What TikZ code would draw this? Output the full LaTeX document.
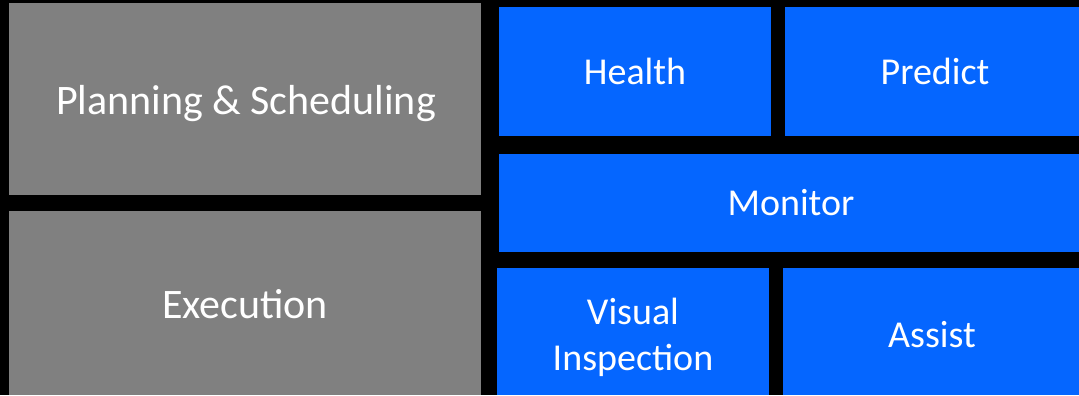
\documentclass[tikz,border=0pt]{standalone}
\usepackage{fontspec}
\setmainfont{Carlito}
\definecolor{tilegray}{RGB}{128,128,128}
\definecolor{tileblue}{RGB}{5,102,255}
\begin{document}
\begin{tikzpicture}[x=1bp,y=-1bp,
  tile/.style={rectangle,inner sep=0pt,outer sep=0pt,draw=none},
  graytile/.style={tile,fill=tilegray},
  bluetile/.style={tile,fill=tileblue},
  lbl/.style={anchor=base,inner sep=0pt,text=white,font=\fontsize{38bp}{46bp}\selectfont,align=center},
  biglbl/.style={lbl,font=\fontsize{42bp}{50bp}\selectfont}]
\fill[black] (0,0) rectangle (1079,395);
\useasboundingbox (0,0) rectangle (1079,395);
% tiles
\node[graytile,minimum width=472bp,minimum height=192bp] (plan) at (245,99) {};
\node[graytile,minimum width=472bp,minimum height=184bp] (exec) at (245,303) {};
\node[bluetile,minimum width=272bp,minimum height=129bp] (health) at (635,71.5) {};
\node[bluetile,minimum width=294bp,minimum height=129bp] (predict) at (932,71.5) {};
\node[bluetile,minimum width=580bp,minimum height=98bp] (monitor) at (789,202.5) {};
\node[bluetile,minimum width=272bp,minimum height=127bp] (visual) at (633,331.5) {};
\node[bluetile,minimum width=296bp,minimum height=127bp] (assist) at (931,331.5) {};
% labels
\node[biglbl] (planL) at (246,114) {Planning \& Scheduling};
\node[biglbl] (execL) at (245,318) {Execution};
\node[lbl] (healthL) at (635,84) {Health};
\node[lbl] (predictL) at (935,84) {Predict};
\node[lbl] (monitorL) at (791,215) {Monitor};
\node[lbl] (visualL) at (633,370) {Visual\\Inspection};
\node[lbl] (assistL) at (932,347) {Assist};
\end{tikzpicture}
\end{document}
